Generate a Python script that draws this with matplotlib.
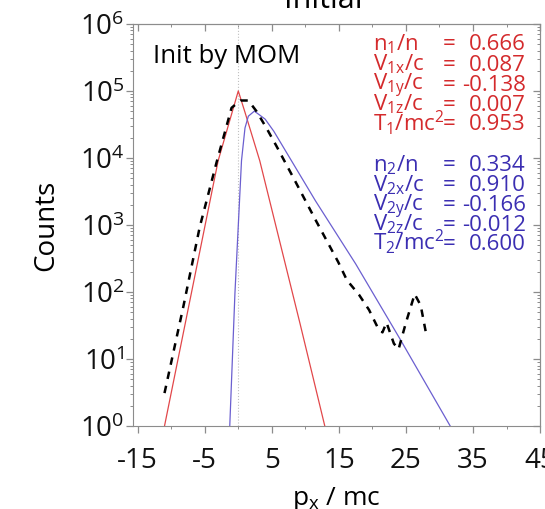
import numpy as np
import matplotlib
matplotlib.use("Agg")
import matplotlib.pyplot as plt
from matplotlib.ticker import NullFormatter, LogLocator

plt.rcParams['font.family'] = ['Open Sans', 'DejaVu Sans']
plt.rcParams['mathtext.fontset'] = 'custom'
plt.rcParams['mathtext.rm'] = 'Open Sans'
plt.rcParams['mathtext.it'] = 'Open Sans:italic'
plt.rcParams['axes.unicode_minus'] = False

# ---- data ----
# component 1 (red)
red_px = [-11, -3, -1, 0, 1, 3.2, 9.2, 12.9]
red_counts = [1, 9.1e3, 4.5e4, 1.0e5, 4.8e4, 9.1e3, 34, 1]
# component 2 (blue)
blue_px = [-1.27, -0.5, 0.48, 1.0, 1.5, 2.4, 4.0, 5.3, 11.5, 17.5, 24.1, 31.6]
blue_counts = [1, 95, 9.1e3, 2.8e4, 4.2e4, 5.0e4, 3.8e4, 2.5e4, 2.3e3, 263, 20, 1]
# measured distribution (black dashed)
data_px = [-11, -8.2, -5.75, -3.25, -1.0, 0.3, 1.5, 2.7, 4.2, 5.7, 8.2, 11.5, 14.9,
           16.2, 18.0, 19.5, 20.9, 21.5, 22.1, 23.2, 23.9, 25.0, 26.3, 27.2, 28.0]
data_counts = [3.1, 60, 930, 8.5e3, 5.6e4, 7.2e4, 7.2e4, 5.0e4, 2.8e4, 1.5e4, 5.1e3, 1.2e3, 280,
               150, 91, 54, 28, 25, 35, 17, 14, 35, 93, 63, 24]

comp1_labels = [r'n$_1$/n', r'V$_{\mathrm{1x}}$/c', r'V$_{\mathrm{1y}}$/c',
                r'V$_{\mathrm{1z}}$/c', r'T$_1$/mc$^2$']
comp1_values = [0.666, 0.087, -0.138, 0.007, 0.953]
comp2_labels = [r'n$_2$/n', r'V$_{\mathrm{2x}}$/c', r'V$_{\mathrm{2y}}$/c',
                r'V$_{\mathrm{2z}}$/c', r'T$_2$/mc$^2$']
comp2_values = [0.334, 0.910, -0.166, -0.012, 0.600]

RED_LINE = '#e2474a'
BLUE_LINE = '#6b5fd0'
RED_TXT = '#d42a2c'
BLUE_TXT = '#3b2eb2'
SPINE = '#8c8c8c'

fig = plt.figure(figsize=(5.45, 5.09), dpi=100)
ax = fig.add_axes([0.244, 0.163, 0.747, 0.790])

ax.axvline(0, color='#c0c0c0', ls=':', lw=0.8)
ax.plot(red_px, red_counts, color=RED_LINE, lw=0.9)
ax.plot(blue_px, blue_counts, color=BLUE_LINE, lw=0.9)
ax.plot(data_px, data_counts, color='k', lw=1.8, dashes=(3, 2.8))

ax.set_yscale('log')
ax.set_ylim(1, 1e6)
ax.set_xlim(-15.7, 45)
ax.set_xticks(np.arange(-15, 46, 10))
ax.set_xticks(np.arange(-10, 45, 10), minor=True)
ax.yaxis.set_major_locator(LogLocator(base=10, numticks=10))

for s in ax.spines.values():
    s.set_color(SPINE)
ax.tick_params(which='both', direction='out', color=SPINE, labelsize=20, labelcolor='#111111')
ax.tick_params(which='major', length=5, width=0.9)
ax.tick_params(which='minor', length=2.5, width=0.7)
ax.tick_params(axis='x', pad=10)
ax.tick_params(axis='y', pad=1)

top = ax.secondary_xaxis('top')
top.set_xticks(np.arange(-15, 46, 10))
top.set_xticks(np.arange(-10, 45, 10), minor=True)
top.xaxis.set_major_formatter(NullFormatter())
top.tick_params(which='both', direction='in', color=SPINE)
top.tick_params(which='major', length=5, width=0.9)
top.tick_params(which='minor', length=2.5, width=0.7)
top.spines['top'].set_color(SPINE)

right = ax.secondary_yaxis('right')
right.yaxis.set_major_formatter(NullFormatter())
right.yaxis.set_minor_formatter(NullFormatter())
right.tick_params(which='both', direction='in', color=SPINE)
right.tick_params(which='major', length=5, width=0.9)
right.tick_params(which='minor', length=2.5, width=0.7)
right.spines['right'].set_color(SPINE)

ax.set_ylabel('Counts', size=20, labelpad=14)
ax.set_xlabel(r'p$_\mathrm{x}$ / mc', size=19, labelpad=7)
fig.text(0.594, 0.984, 'Initial', ha='center', va='baseline', size=22)

ax.text(0.049, 0.903, 'Init by MOM', transform=ax.transAxes, size=18.5, va='baseline')

red_rows = [0.934, 0.884, 0.834, 0.784, 0.735]
blue_rows = [0.633, 0.584, 0.535, 0.486, 0.438]
for labels, values, rows, col in [(comp1_labels, comp1_values, red_rows, RED_TXT),
                                  (comp2_labels, comp2_values, blue_rows, BLUE_TXT)]:
    for lab, val, yy in zip(labels, values, rows):
        ax.text(0.59, yy, lab, transform=ax.transAxes, size=16, color=col, va='baseline')
        ax.text(0.762, yy, '=', transform=ax.transAxes, size=16, color=col, va='baseline')
        ax.text(0.965, yy, f'{val:.3f}', transform=ax.transAxes, size=16, color=col,
                va='baseline', ha='right')

fig.savefig('out.png', dpi=100)
